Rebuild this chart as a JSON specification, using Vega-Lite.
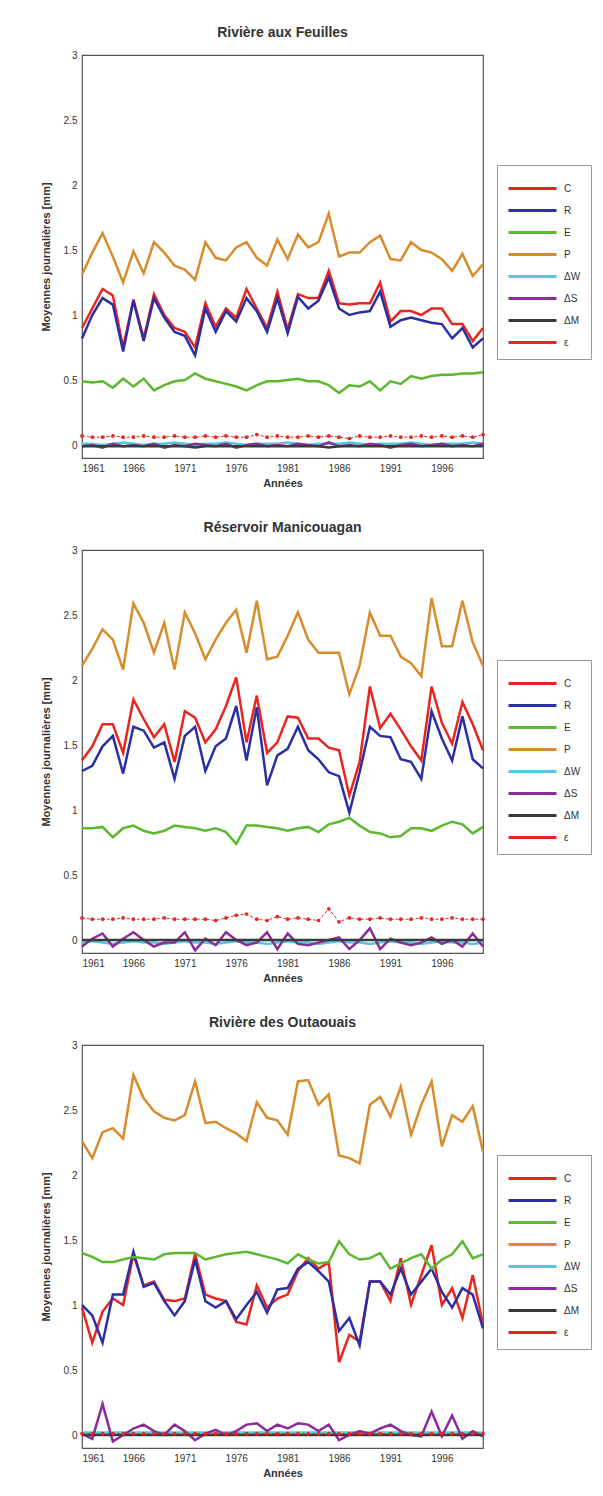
{
 "$schema": "https://vega.github.io/schema/vega-lite/v6.json",
 "background": "white",
 "padding": {"top": 25, "left": 39, "right": 0, "bottom": 0},
 "config": {
  "view": {"stroke": "#555", "strokeWidth": 1.2},
  "font": "Liberation Sans",
  "axis": {"grid": false, "ticks": false, "domain": false, "labelColor": "#333", "titleColor": "#333", "labelFontSize": 10, "titleFontSize": 11, "titleFontWeight": "bold", "labelPadding": 5},
  "title": {"fontSize": 14, "fontWeight": "bold", "color": "#333", "offset": 10},
  "legend": {"orient": "none", "legendX": 415, "legendY": 110, "strokeColor": "#999", "fillColor": "white", "padding": 10, "symbolType": "M-1,0L3,0", "symbolStrokeWidth": 3, "symbolSize": 576, "rowPadding": 2, "labelOffset": 30, "labelFontSize": 10, "labelColor": "#333", "title": null}
 },
 "data": {"values": [
{"site":"F","year":1961,"C":0.90,"R":0.82,"E":0.49,"P":1.31,"dW":0.01,"dS":-0.01,"dM":-0.01,"eps":0.07},
{"site":"F","year":1962,"C":1.05,"R":1.00,"E":0.48,"P":1.48,"dW":0.01,"dS":0.00,"dM":-0.01,"eps":0.06},
{"site":"F","year":1963,"C":1.20,"R":1.13,"E":0.49,"P":1.63,"dW":0.00,"dS":-0.02,"dM":-0.01,"eps":0.06},
{"site":"F","year":1964,"C":1.15,"R":1.08,"E":0.44,"P":1.45,"dW":0.01,"dS":0.01,"dM":-0.01,"eps":0.07},
{"site":"F","year":1965,"C":0.75,"R":0.72,"E":0.51,"P":1.25,"dW":0.02,"dS":-0.01,"dM":-0.01,"eps":0.06},
{"site":"F","year":1966,"C":1.12,"R":1.11,"E":0.45,"P":1.49,"dW":0.01,"dS":0.00,"dM":-0.01,"eps":0.06},
{"site":"F","year":1967,"C":0.82,"R":0.80,"E":0.51,"P":1.32,"dW":0.00,"dS":-0.01,"dM":-0.01,"eps":0.07},
{"site":"F","year":1968,"C":1.16,"R":1.13,"E":0.42,"P":1.56,"dW":0.01,"dS":0.01,"dM":-0.01,"eps":0.06},
{"site":"F","year":1969,"C":1.00,"R":0.98,"E":0.46,"P":1.48,"dW":0.01,"dS":-0.02,"dM":-0.01,"eps":0.06},
{"site":"F","year":1970,"C":0.90,"R":0.87,"E":0.49,"P":1.38,"dW":0.02,"dS":0.00,"dM":-0.01,"eps":0.07},
{"site":"F","year":1971,"C":0.87,"R":0.84,"E":0.50,"P":1.35,"dW":0.01,"dS":-0.01,"dM":-0.01,"eps":0.06},
{"site":"F","year":1972,"C":0.75,"R":0.69,"E":0.55,"P":1.27,"dW":0.00,"dS":0.01,"dM":-0.02,"eps":0.06},
{"site":"F","year":1973,"C":1.09,"R":1.05,"E":0.51,"P":1.56,"dW":0.01,"dS":0.00,"dM":-0.01,"eps":0.07},
{"site":"F","year":1974,"C":0.91,"R":0.87,"E":0.49,"P":1.44,"dW":0.01,"dS":-0.01,"dM":-0.01,"eps":0.06},
{"site":"F","year":1975,"C":1.05,"R":1.03,"E":0.47,"P":1.42,"dW":0.02,"dS":0.01,"dM":-0.01,"eps":0.07},
{"site":"F","year":1976,"C":0.98,"R":0.95,"E":0.45,"P":1.52,"dW":0.01,"dS":-0.02,"dM":-0.01,"eps":0.06},
{"site":"F","year":1977,"C":1.20,"R":1.13,"E":0.42,"P":1.56,"dW":0.00,"dS":0.00,"dM":-0.01,"eps":0.06},
{"site":"F","year":1978,"C":1.05,"R":1.03,"E":0.46,"P":1.44,"dW":0.01,"dS":0.01,"dM":-0.01,"eps":0.08},
{"site":"F","year":1979,"C":0.90,"R":0.87,"E":0.49,"P":1.38,"dW":0.01,"dS":-0.01,"dM":-0.01,"eps":0.06},
{"site":"F","year":1980,"C":1.18,"R":1.13,"E":0.49,"P":1.58,"dW":0.01,"dS":0.00,"dM":-0.01,"eps":0.07},
{"site":"F","year":1981,"C":0.89,"R":0.86,"E":0.50,"P":1.43,"dW":0.02,"dS":-0.01,"dM":-0.01,"eps":0.06},
{"site":"F","year":1982,"C":1.16,"R":1.14,"E":0.51,"P":1.62,"dW":0.01,"dS":0.01,"dM":-0.01,"eps":0.06},
{"site":"F","year":1983,"C":1.13,"R":1.05,"E":0.49,"P":1.52,"dW":0.00,"dS":0.00,"dM":-0.01,"eps":0.07},
{"site":"F","year":1984,"C":1.13,"R":1.11,"E":0.49,"P":1.56,"dW":0.01,"dS":-0.01,"dM":-0.01,"eps":0.06},
{"site":"F","year":1985,"C":1.34,"R":1.29,"E":0.46,"P":1.78,"dW":0.01,"dS":0.02,"dM":-0.02,"eps":0.07},
{"site":"F","year":1986,"C":1.09,"R":1.05,"E":0.40,"P":1.45,"dW":0.01,"dS":-0.01,"dM":-0.01,"eps":0.06},
{"site":"F","year":1987,"C":1.08,"R":1.00,"E":0.46,"P":1.48,"dW":0.02,"dS":0.00,"dM":-0.01,"eps":0.05},
{"site":"F","year":1988,"C":1.09,"R":1.02,"E":0.45,"P":1.48,"dW":0.01,"dS":-0.01,"dM":-0.01,"eps":0.07},
{"site":"F","year":1989,"C":1.09,"R":1.03,"E":0.49,"P":1.56,"dW":0.00,"dS":0.01,"dM":-0.01,"eps":0.06},
{"site":"F","year":1990,"C":1.25,"R":1.18,"E":0.42,"P":1.61,"dW":0.01,"dS":0.00,"dM":-0.01,"eps":0.06},
{"site":"F","year":1991,"C":0.95,"R":0.91,"E":0.49,"P":1.43,"dW":0.01,"dS":-0.02,"dM":-0.01,"eps":0.07},
{"site":"F","year":1992,"C":1.03,"R":0.96,"E":0.47,"P":1.42,"dW":0.01,"dS":0.00,"dM":-0.01,"eps":0.06},
{"site":"F","year":1993,"C":1.03,"R":0.98,"E":0.53,"P":1.56,"dW":0.02,"dS":0.01,"dM":-0.01,"eps":0.06},
{"site":"F","year":1994,"C":1.00,"R":0.96,"E":0.51,"P":1.50,"dW":0.01,"dS":-0.01,"dM":-0.01,"eps":0.07},
{"site":"F","year":1995,"C":1.05,"R":0.94,"E":0.53,"P":1.48,"dW":0.00,"dS":0.00,"dM":-0.01,"eps":0.06},
{"site":"F","year":1996,"C":1.05,"R":0.93,"E":0.54,"P":1.43,"dW":0.01,"dS":0.01,"dM":-0.01,"eps":0.07},
{"site":"F","year":1997,"C":0.93,"R":0.82,"E":0.54,"P":1.34,"dW":0.01,"dS":-0.01,"dM":-0.01,"eps":0.06},
{"site":"F","year":1998,"C":0.93,"R":0.90,"E":0.55,"P":1.47,"dW":0.01,"dS":0.00,"dM":-0.01,"eps":0.07},
{"site":"F","year":1999,"C":0.80,"R":0.75,"E":0.55,"P":1.30,"dW":0.02,"dS":-0.01,"dM":-0.01,"eps":0.06},
{"site":"F","year":2000,"C":0.90,"R":0.82,"E":0.56,"P":1.39,"dW":0.01,"dS":0.01,"dM":-0.01,"eps":0.08},
{"site":"M","year":1961,"C":1.38,"R":1.30,"E":0.86,"P":2.11,"dW":-0.02,"dS":-0.05,"dM":0,"eps":0.17},
{"site":"M","year":1962,"C":1.49,"R":1.34,"E":0.86,"P":2.24,"dW":-0.01,"dS":0.01,"dM":0,"eps":0.16},
{"site":"M","year":1963,"C":1.66,"R":1.49,"E":0.87,"P":2.39,"dW":-0.02,"dS":0.05,"dM":0,"eps":0.16},
{"site":"M","year":1964,"C":1.66,"R":1.57,"E":0.79,"P":2.31,"dW":-0.03,"dS":-0.05,"dM":0,"eps":0.16},
{"site":"M","year":1965,"C":1.44,"R":1.28,"E":0.86,"P":2.08,"dW":-0.02,"dS":0.01,"dM":0,"eps":0.17},
{"site":"M","year":1966,"C":1.85,"R":1.64,"E":0.88,"P":2.59,"dW":-0.01,"dS":0.06,"dM":0,"eps":0.16},
{"site":"M","year":1967,"C":1.70,"R":1.61,"E":0.84,"P":2.44,"dW":-0.02,"dS":0.00,"dM":0,"eps":0.16},
{"site":"M","year":1968,"C":1.56,"R":1.48,"E":0.82,"P":2.21,"dW":-0.02,"dS":-0.05,"dM":0,"eps":0.16},
{"site":"M","year":1969,"C":1.66,"R":1.52,"E":0.84,"P":2.44,"dW":-0.03,"dS":-0.02,"dM":0,"eps":0.17},
{"site":"M","year":1970,"C":1.37,"R":1.24,"E":0.88,"P":2.08,"dW":-0.02,"dS":-0.02,"dM":0,"eps":0.16},
{"site":"M","year":1971,"C":1.76,"R":1.57,"E":0.87,"P":2.52,"dW":-0.01,"dS":0.06,"dM":0,"eps":0.16},
{"site":"M","year":1972,"C":1.71,"R":1.64,"E":0.86,"P":2.36,"dW":-0.02,"dS":-0.08,"dM":0,"eps":0.16},
{"site":"M","year":1973,"C":1.52,"R":1.30,"E":0.84,"P":2.16,"dW":-0.02,"dS":0.01,"dM":0,"eps":0.16},
{"site":"M","year":1974,"C":1.62,"R":1.49,"E":0.86,"P":2.31,"dW":-0.03,"dS":-0.04,"dM":0,"eps":0.15},
{"site":"M","year":1975,"C":1.80,"R":1.55,"E":0.83,"P":2.44,"dW":-0.02,"dS":0.06,"dM":0,"eps":0.17},
{"site":"M","year":1976,"C":2.02,"R":1.80,"E":0.74,"P":2.54,"dW":-0.01,"dS":0.00,"dM":0,"eps":0.19},
{"site":"M","year":1977,"C":1.52,"R":1.38,"E":0.88,"P":2.21,"dW":-0.02,"dS":-0.04,"dM":0,"eps":0.20},
{"site":"M","year":1978,"C":1.88,"R":1.79,"E":0.88,"P":2.61,"dW":-0.02,"dS":-0.02,"dM":0,"eps":0.16},
{"site":"M","year":1979,"C":1.44,"R":1.19,"E":0.87,"P":2.16,"dW":-0.03,"dS":0.06,"dM":0,"eps":0.15},
{"site":"M","year":1980,"C":1.52,"R":1.42,"E":0.86,"P":2.18,"dW":-0.02,"dS":-0.07,"dM":0,"eps":0.18},
{"site":"M","year":1981,"C":1.72,"R":1.47,"E":0.84,"P":2.34,"dW":-0.01,"dS":0.05,"dM":0,"eps":0.16},
{"site":"M","year":1982,"C":1.71,"R":1.64,"E":0.86,"P":2.52,"dW":-0.02,"dS":-0.03,"dM":0,"eps":0.17},
{"site":"M","year":1983,"C":1.55,"R":1.46,"E":0.87,"P":2.31,"dW":-0.02,"dS":-0.04,"dM":0,"eps":0.16},
{"site":"M","year":1984,"C":1.55,"R":1.39,"E":0.83,"P":2.21,"dW":-0.03,"dS":-0.02,"dM":0,"eps":0.15},
{"site":"M","year":1985,"C":1.48,"R":1.29,"E":0.89,"P":2.21,"dW":-0.02,"dS":0.00,"dM":0,"eps":0.24},
{"site":"M","year":1986,"C":1.46,"R":1.26,"E":0.91,"P":2.21,"dW":-0.01,"dS":0.02,"dM":0,"eps":0.14},
{"site":"M","year":1987,"C":1.11,"R":0.98,"E":0.94,"P":1.89,"dW":-0.02,"dS":-0.07,"dM":0,"eps":0.17},
{"site":"M","year":1988,"C":1.37,"R":1.29,"E":0.88,"P":2.11,"dW":-0.02,"dS":0.00,"dM":0,"eps":0.16},
{"site":"M","year":1989,"C":1.95,"R":1.64,"E":0.83,"P":2.52,"dW":-0.03,"dS":0.09,"dM":0,"eps":0.16},
{"site":"M","year":1990,"C":1.63,"R":1.57,"E":0.82,"P":2.34,"dW":-0.02,"dS":-0.07,"dM":0,"eps":0.17},
{"site":"M","year":1991,"C":1.74,"R":1.56,"E":0.79,"P":2.34,"dW":-0.01,"dS":0.01,"dM":0,"eps":0.16},
{"site":"M","year":1992,"C":1.62,"R":1.39,"E":0.80,"P":2.18,"dW":-0.02,"dS":-0.02,"dM":0,"eps":0.16},
{"site":"M","year":1993,"C":1.49,"R":1.37,"E":0.86,"P":2.13,"dW":-0.02,"dS":-0.04,"dM":0,"eps":0.16},
{"site":"M","year":1994,"C":1.38,"R":1.24,"E":0.86,"P":2.03,"dW":-0.03,"dS":-0.02,"dM":0,"eps":0.17},
{"site":"M","year":1995,"C":1.95,"R":1.76,"E":0.84,"P":2.63,"dW":-0.02,"dS":0.02,"dM":0,"eps":0.16},
{"site":"M","year":1996,"C":1.67,"R":1.55,"E":0.88,"P":2.26,"dW":-0.01,"dS":-0.03,"dM":0,"eps":0.16},
{"site":"M","year":1997,"C":1.51,"R":1.38,"E":0.91,"P":2.26,"dW":-0.02,"dS":0.00,"dM":0,"eps":0.17},
{"site":"M","year":1998,"C":1.83,"R":1.72,"E":0.89,"P":2.61,"dW":-0.02,"dS":-0.05,"dM":0,"eps":0.16},
{"site":"M","year":1999,"C":1.66,"R":1.39,"E":0.82,"P":2.29,"dW":-0.03,"dS":0.05,"dM":0,"eps":0.16},
{"site":"M","year":2000,"C":1.46,"R":1.32,"E":0.87,"P":2.11,"dW":-0.02,"dS":-0.05,"dM":0,"eps":0.16},
{"site":"O","year":1961,"C":0.98,"R":1.00,"E":1.40,"P":2.26,"dW":0.02,"dS":0.01,"dM":0,"eps":0.01},
{"site":"O","year":1962,"C":0.71,"R":0.92,"E":1.37,"P":2.13,"dW":0.02,"dS":-0.03,"dM":0,"eps":0.01},
{"site":"O","year":1963,"C":0.95,"R":0.71,"E":1.33,"P":2.33,"dW":0.02,"dS":0.24,"dM":0,"eps":0.01},
{"site":"O","year":1964,"C":1.05,"R":1.08,"E":1.33,"P":2.36,"dW":0.02,"dS":-0.05,"dM":0,"eps":0.01},
{"site":"O","year":1965,"C":1.00,"R":1.08,"E":1.35,"P":2.28,"dW":0.02,"dS":0.00,"dM":0,"eps":0.01},
{"site":"O","year":1966,"C":1.39,"R":1.41,"E":1.37,"P":2.77,"dW":0.02,"dS":0.05,"dM":0,"eps":0.01},
{"site":"O","year":1967,"C":1.15,"R":1.14,"E":1.36,"P":2.59,"dW":0.02,"dS":0.08,"dM":0,"eps":0.01},
{"site":"O","year":1968,"C":1.18,"R":1.17,"E":1.35,"P":2.49,"dW":0.02,"dS":0.03,"dM":0,"eps":0.01},
{"site":"O","year":1969,"C":1.04,"R":1.03,"E":1.39,"P":2.44,"dW":0.02,"dS":0.00,"dM":0,"eps":0.01},
{"site":"O","year":1970,"C":1.03,"R":0.92,"E":1.40,"P":2.42,"dW":0.02,"dS":0.08,"dM":0,"eps":0.01},
{"site":"O","year":1971,"C":1.05,"R":1.03,"E":1.40,"P":2.46,"dW":0.02,"dS":0.03,"dM":0,"eps":0.01},
{"site":"O","year":1972,"C":1.39,"R":1.35,"E":1.40,"P":2.72,"dW":0.02,"dS":-0.04,"dM":0,"eps":0.01},
{"site":"O","year":1973,"C":1.08,"R":1.03,"E":1.35,"P":2.40,"dW":0.02,"dS":0.01,"dM":0,"eps":0.01},
{"site":"O","year":1974,"C":1.05,"R":0.98,"E":1.37,"P":2.41,"dW":0.02,"dS":0.04,"dM":0,"eps":0.01},
{"site":"O","year":1975,"C":1.03,"R":1.03,"E":1.39,"P":2.36,"dW":0.02,"dS":0.00,"dM":0,"eps":0.01},
{"site":"O","year":1976,"C":0.87,"R":0.89,"E":1.40,"P":2.32,"dW":0.02,"dS":0.03,"dM":0,"eps":0.01},
{"site":"O","year":1977,"C":0.85,"R":1.00,"E":1.41,"P":2.26,"dW":0.02,"dS":0.08,"dM":0,"eps":0.01},
{"site":"O","year":1978,"C":1.15,"R":1.10,"E":1.39,"P":2.56,"dW":0.02,"dS":0.09,"dM":0,"eps":0.01},
{"site":"O","year":1979,"C":0.98,"R":0.94,"E":1.37,"P":2.44,"dW":0.02,"dS":0.03,"dM":0,"eps":0.01},
{"site":"O","year":1980,"C":1.05,"R":1.12,"E":1.35,"P":2.42,"dW":0.02,"dS":0.08,"dM":0,"eps":0.01},
{"site":"O","year":1981,"C":1.08,"R":1.13,"E":1.32,"P":2.31,"dW":0.02,"dS":0.05,"dM":0,"eps":0.01},
{"site":"O","year":1982,"C":1.26,"R":1.28,"E":1.39,"P":2.72,"dW":0.02,"dS":0.09,"dM":0,"eps":0.01},
{"site":"O","year":1983,"C":1.36,"R":1.33,"E":1.35,"P":2.73,"dW":0.02,"dS":0.08,"dM":0,"eps":0.01},
{"site":"O","year":1984,"C":1.28,"R":1.26,"E":1.32,"P":2.54,"dW":0.02,"dS":0.03,"dM":0,"eps":0.01},
{"site":"O","year":1985,"C":1.33,"R":1.18,"E":1.33,"P":2.62,"dW":0.02,"dS":0.08,"dM":0,"eps":0.01},
{"site":"O","year":1986,"C":0.56,"R":0.80,"E":1.49,"P":2.15,"dW":0.02,"dS":-0.04,"dM":0,"eps":0.01},
{"site":"O","year":1987,"C":0.77,"R":0.90,"E":1.39,"P":2.13,"dW":0.02,"dS":0.00,"dM":0,"eps":0.01},
{"site":"O","year":1988,"C":0.72,"R":0.69,"E":1.35,"P":2.09,"dW":0.02,"dS":0.03,"dM":0,"eps":0.01},
{"site":"O","year":1989,"C":1.18,"R":1.18,"E":1.36,"P":2.54,"dW":0.02,"dS":0.01,"dM":0,"eps":0.01},
{"site":"O","year":1990,"C":1.18,"R":1.18,"E":1.40,"P":2.60,"dW":0.02,"dS":0.05,"dM":0,"eps":0.01},
{"site":"O","year":1991,"C":1.03,"R":1.08,"E":1.28,"P":2.45,"dW":0.02,"dS":0.08,"dM":0,"eps":0.01},
{"site":"O","year":1992,"C":1.36,"R":1.28,"E":1.32,"P":2.68,"dW":0.02,"dS":0.03,"dM":0,"eps":0.01},
{"site":"O","year":1993,"C":1.00,"R":1.08,"E":1.36,"P":2.31,"dW":0.02,"dS":0.00,"dM":0,"eps":0.01},
{"site":"O","year":1994,"C":1.23,"R":1.18,"E":1.39,"P":2.54,"dW":0.02,"dS":-0.01,"dM":0,"eps":0.01},
{"site":"O","year":1995,"C":1.46,"R":1.28,"E":1.28,"P":2.72,"dW":0.02,"dS":0.18,"dM":0,"eps":0.01},
{"site":"O","year":1996,"C":1.00,"R":1.10,"E":1.35,"P":2.22,"dW":0.02,"dS":-0.01,"dM":0,"eps":0.01},
{"site":"O","year":1997,"C":1.13,"R":0.98,"E":1.39,"P":2.46,"dW":0.02,"dS":0.15,"dM":0,"eps":0.01},
{"site":"O","year":1998,"C":0.90,"R":1.13,"E":1.49,"P":2.41,"dW":0.02,"dS":-0.03,"dM":0,"eps":0.01},
{"site":"O","year":1999,"C":1.23,"R":1.08,"E":1.36,"P":2.53,"dW":0.02,"dS":0.03,"dM":0,"eps":0.01},
{"site":"O","year":2000,"C":0.85,"R":0.82,"E":1.39,"P":2.18,"dW":0.02,"dS":-0.01,"dM":0,"eps":0.01}
 ]},
 "transform": [{"fold": ["C","R","E","P","dW","dS","dM","eps"], "as": ["serie","value"]}],
 "spacing": 31,
 "resolve": {"legend": {"color": "independent"}},
 "vconcat": [
  {"title": "Rivière aux Feuilles", "width": 401, "height": 403,
   "transform": [{"filter": "datum.site === 'F'"}],
   "encoding": {
    "x": {"field": "year", "type": "quantitative", "scale": {"domain": [1961, 2000], "nice": false, "zero": false}, "axis": {"values": [1961,1966,1971,1976,1981,1986,1991,1996], "format": "d", "title": "Années"}},
    "y": {"field": "value", "type": "quantitative", "scale": {"domain": [-0.1, 3], "nice": false}, "axis": {"values": [0,0.5,1,1.5,2,2.5,3], "format": "~g", "title": "Moyennes journalières [mm]", "titlePadding": 12}},
    "color": {"field": "serie", "type": "nominal", "scale": {"domain": ["C","R","E","P","dW","dS","dM","eps"], "range": ["#e8261f","#2b2fa6","#5cb82e","#d98c2b","#55c8e0","#8b2c9c","#3a3a3a","#e8261f"]}, "legend": {"labelExpr": "(datum.label == 'dW' ? 'ΔW' : datum.label == 'dS' ? 'ΔS' : datum.label == 'dM' ? 'ΔM' : datum.label == 'eps' ? 'ε' : datum.label) + '\u00a0\u00a0\u00a0\u00a0\u00a0\u00a0\u00a0\u00a0'"}}
   },
   "layer": [
    {"transform": [{"filter": "datum.serie !== 'eps'"}], "mark": {"type": "line", "strokeWidth": 2.5}},
    {"transform": [{"filter": "datum.serie === 'eps'"}], "mark": {"type": "line", "strokeWidth": 1, "strokeDash": [3, 2]}},
    {"transform": [{"filter": "datum.serie === 'eps'"}], "mark": {"type": "point", "shape": "circle", "filled": true, "size": 14, "opacity": 1}}
   ]},
  {"title": "Réservoir Manicouagan", "width": 401, "height": 403,
   "transform": [{"filter": "datum.site === 'M'"}],
   "encoding": {
    "x": {"field": "year", "type": "quantitative", "scale": {"domain": [1961, 2000], "nice": false, "zero": false}, "axis": {"values": [1961,1966,1971,1976,1981,1986,1991,1996], "format": "d", "title": "Années"}},
    "y": {"field": "value", "type": "quantitative", "scale": {"domain": [-0.1, 3], "nice": false}, "axis": {"values": [0,0.5,1,1.5,2,2.5,3], "format": "~g", "title": "Moyennes journalières [mm]", "titlePadding": 12}},
    "color": {"field": "serie", "type": "nominal", "scale": {"domain": ["C","R","E","P","dW","dS","dM","eps"], "range": ["#e8261f","#2b2fa6","#5cb82e","#d98c2b","#55c8e0","#8b2c9c","#3a3a3a","#e8261f"]}, "legend": {"labelExpr": "(datum.label == 'dW' ? 'ΔW' : datum.label == 'dS' ? 'ΔS' : datum.label == 'dM' ? 'ΔM' : datum.label == 'eps' ? 'ε' : datum.label) + '\u00a0\u00a0\u00a0\u00a0\u00a0\u00a0\u00a0\u00a0'"}}
   },
   "layer": [
    {"transform": [{"filter": "datum.serie !== 'eps'"}], "mark": {"type": "line", "strokeWidth": 2.5}},
    {"transform": [{"filter": "datum.serie === 'eps'"}], "mark": {"type": "line", "strokeWidth": 1, "strokeDash": [3, 2]}},
    {"transform": [{"filter": "datum.serie === 'eps'"}], "mark": {"type": "point", "shape": "circle", "filled": true, "size": 14, "opacity": 1}}
   ]},
  {"title": "Rivière des Outaouais", "width": 401, "height": 403,
   "transform": [{"filter": "datum.site === 'O'"}],
   "encoding": {
    "x": {"field": "year", "type": "quantitative", "scale": {"domain": [1961, 2000], "nice": false, "zero": false}, "axis": {"values": [1961,1966,1971,1976,1981,1986,1991,1996], "format": "d", "title": "Années"}},
    "y": {"field": "value", "type": "quantitative", "scale": {"domain": [-0.1, 3], "nice": false}, "axis": {"values": [0,0.5,1,1.5,2,2.5,3], "format": "~g", "title": "Moyennes journalières [mm]", "titlePadding": 12}},
    "color": {"field": "serie", "type": "nominal", "scale": {"domain": ["C","R","E","P","dW","dS","dM","eps"], "range": ["#e8261f","#2b2fa6","#5cb82e","#d98c2b","#55c8e0","#8b2c9c","#3a3a3a","#e8261f"]}, "legend": {"labelExpr": "(datum.label == 'dW' ? 'ΔW' : datum.label == 'dS' ? 'ΔS' : datum.label == 'dM' ? 'ΔM' : datum.label == 'eps' ? 'ε' : datum.label) + '\u00a0\u00a0\u00a0\u00a0\u00a0\u00a0\u00a0\u00a0'"}}
   },
   "layer": [
    {"transform": [{"filter": "datum.serie !== 'eps'"}], "mark": {"type": "line", "strokeWidth": 2.5}},
    {"transform": [{"filter": "datum.serie === 'eps'"}], "mark": {"type": "line", "strokeWidth": 1, "strokeDash": [3, 2]}},
    {"transform": [{"filter": "datum.serie === 'eps'"}], "mark": {"type": "point", "shape": "circle", "filled": true, "size": 14, "opacity": 1}}
   ]}
 ]
}
